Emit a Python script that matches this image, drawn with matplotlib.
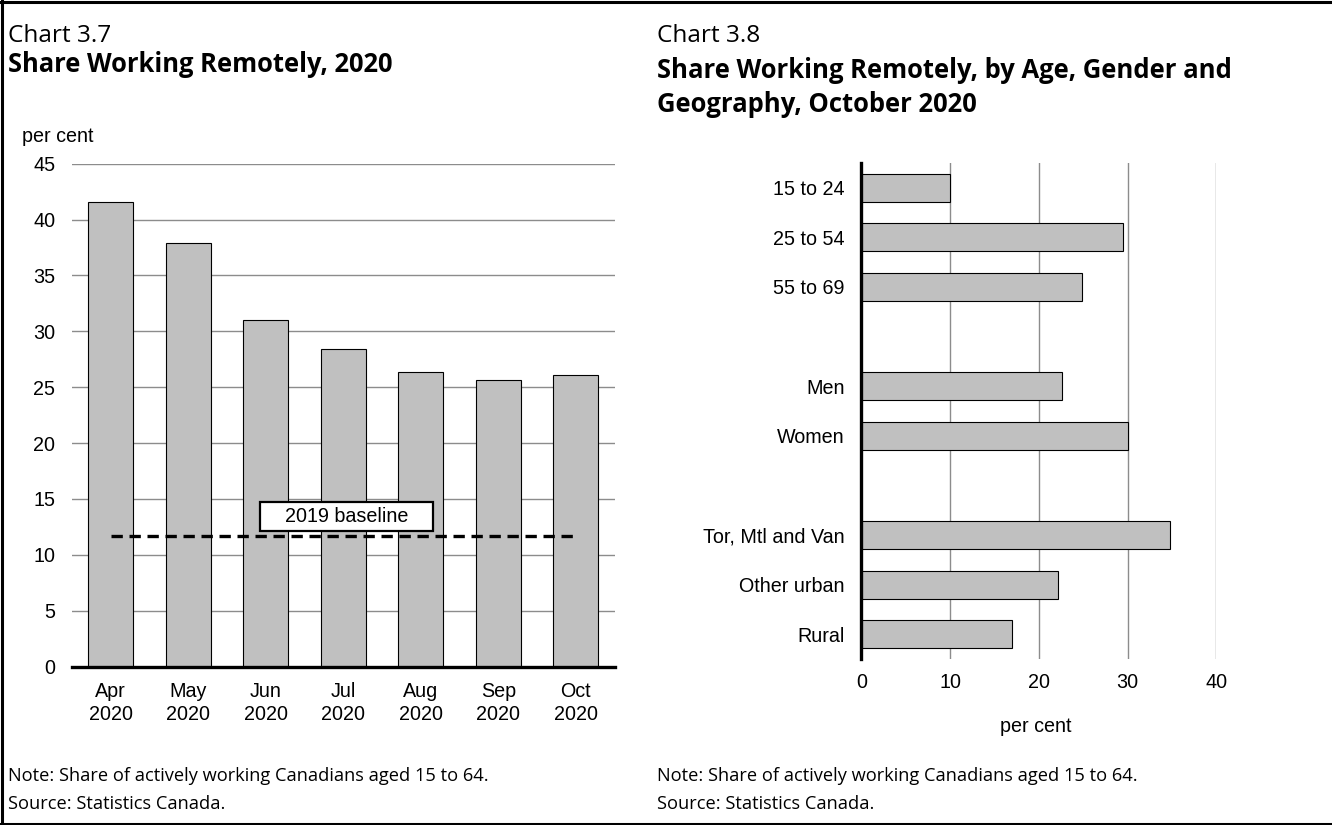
import matplotlib
matplotlib.use("Agg")
import matplotlib.pyplot as plt
from matplotlib.patches import Rectangle
from matplotlib.lines import Line2D

# ---------------- data ----------------
months = ["Apr\n2020", "May\n2020", "Jun\n2020", "Jul\n2020", "Aug\n2020", "Sep\n2020", "Oct\n2020"]
share_remote = [41.6, 37.9, 31.0, 28.4, 26.4, 25.6, 26.1]
baseline_2019 = 11.7
baseline_label = "2019 baseline"

groups = ["15 to 24", "25 to 54", "55 to 69", "Men", "Women",
          "Tor, Mtl and Van", "Other urban", "Rural"]
group_slots = [0, 1, 2, 4, 5, 7, 8, 9]
group_values = [10.0, 29.5, 24.9, 22.6, 30.1, 34.8, 22.2, 17.0]

left_yticks = [0, 5, 10, 15, 20, 25, 30, 35, 40, 45]
right_xticks = [0, 10, 20, 30, 40]

# ---------------- style ----------------
W, H = 1332, 825
DPI = 100
BAR_FILL = "#C0C0C0"
GRID = "#8c8c8c"
TICK_FONT = ["Liberation Sans", "DejaVu Sans"]
TEXT_FONT = ["Open Sans", "DejaVu Sans"]
FS = 14.2

fig = plt.figure(figsize=(W / DPI, H / DPI), dpi=DPI)
fig.patch.set_facecolor("white")


def fx(x):
    return x / W


def fy(y):
    return 1 - y / H


renderer = fig.canvas.get_renderer()


def fit_text(x, y, s, target_w, weight="normal", family=TEXT_FONT, va="center", ha="left"):
    t = fig.text(fx(x), fy(y), s, fontsize=12, fontweight=weight, family=family,
                 va=va, ha=ha)
    w = t.get_window_extent(renderer).width
    t.set_fontsize(12 * target_w / w)
    return t


# figure frame (top, left, bottom)
fig.add_artist(Line2D([0, 1], [fy(1.5), fy(1.5)], color="black", lw=2.2, transform=fig.transFigure))
fig.add_artist(Line2D([0, 1], [fy(823.5), fy(823.5)], color="black", lw=2.2, transform=fig.transFigure))
fig.add_artist(Line2D([fx(1.5), fx(1.5)], [fy(0), fy(825)], color="black", lw=2.2, transform=fig.transFigure))

# ---------------- left chart ----------------
axL = fig.add_axes([fx(72), fy(666.7), fx(614.5 - 72), (666.7 - 163.6) / H])
xs = list(range(len(months)))
axL.bar(xs, share_remote, width=0.575, color=BAR_FILL, edgecolor="black", linewidth=0.8, zorder=2)
axL.set_xlim(-0.5, len(months) - 0.5)
axL.set_ylim(0, 45)
axL.set_yticks(left_yticks)
axL.set_xticks(xs)
axL.set_xticklabels(months, fontsize=FS, family=TICK_FONT, linespacing=1.3)
axL.tick_params(axis="y", length=0, pad=12, labelsize=FS)
axL.tick_params(axis="x", length=0, pad=11)
for lab in axL.get_yticklabels():
    lab.set_family(TICK_FONT)
axL.yaxis.grid(True, color=GRID, lw=1.0, zorder=0)
axL.set_axisbelow(True)
for side in ["left", "right", "top"]:
    axL.spines[side].set_visible(False)
axL.spines["bottom"].set_linewidth(2.4)
axL.spines["bottom"].set_zorder(3)

axL.plot([xs[0], xs[-1]], [baseline_2019, baseline_2019], color="black", lw=2.4,
         linestyle=(0, (3.4, 2.0)), zorder=4)
# label box
box_x0, box_x1, box_y0, box_y1 = 1.926, 4.154, 12.16, 14.76
axL.add_patch(Rectangle((box_x0, box_y0), box_x1 - box_x0, box_y1 - box_y0,
                        facecolor="white", edgecolor="black", lw=1.6, zorder=5))
axL.text((box_x0 + box_x1) / 2, (box_y0 + box_y1) / 2, baseline_label, ha="center", va="center",
         fontsize=FS, family=TICK_FONT, zorder=6)

fig.text(fx(22), fy(137), "per cent", fontsize=FS, family=TICK_FONT, va="center", ha="left")

# ---------------- right chart ----------------
axR = fig.add_axes([fx(861.4), fy(659), fx(1216.3 - 861.4), (659 - 163) / H])
axR.barh(group_slots, group_values, height=0.565, color=BAR_FILL, edgecolor="black",
         linewidth=0.8, zorder=2)
axR.set_ylim(9.5, -0.5)
axR.set_xlim(0, 40)
axR.set_xticks(right_xticks)
axR.set_yticks(group_slots)
axR.set_yticklabels(groups, fontsize=FS, family=TICK_FONT)
axR.tick_params(axis="y", length=0, pad=12)
axR.tick_params(axis="x", length=0, pad=10, labelsize=FS)
for lab in axR.get_xticklabels():
    lab.set_family(TICK_FONT)
axR.xaxis.grid(True, color=GRID, lw=1.0, zorder=0)
axR.set_axisbelow(True)
for side in ["right", "top", "bottom"]:
    axR.spines[side].set_visible(False)
axR.spines["left"].set_linewidth(2.4)
axR.spines["left"].set_zorder(3)
fig.text(fx(1036), fy(727), "per cent", fontsize=FS, family=TICK_FONT, va="center", ha="center")

# ---------------- titles & notes ----------------
fit_text(8, 36, "Chart 3.7", 103)
fit_text(8, 65, "Share Working Remotely, 2020", 384, weight="bold")
fit_text(657, 36, "Chart 3.8", 103)
t1 = fit_text(657, 70, "Share Working Remotely, by Age, Gender and", 573, weight="bold")
fs_title = t1.get_fontsize()
fig.text(fx(657), fy(104), "Geography, October 2020", fontsize=fs_title, fontweight="bold",
         family=TEXT_FONT, va="center", ha="left")

n1 = fit_text(8, 776, "Note: Share of actively working Canadians aged 15 to 64.", 478)
fs_note = n1.get_fontsize()
fig.text(fx(8), fy(804), "Source: Statistics Canada.", fontsize=fs_note, family=TEXT_FONT,
         va="center", ha="left")
fig.text(fx(657), fy(776), "Note: Share of actively working Canadians aged 15 to 64.", fontsize=fs_note,
         family=TEXT_FONT, va="center", ha="left")
fig.text(fx(657), fy(804), "Source: Statistics Canada.", fontsize=fs_note, family=TEXT_FONT,
         va="center", ha="left")

fig.savefig("out.png", dpi=DPI, facecolor="white")
